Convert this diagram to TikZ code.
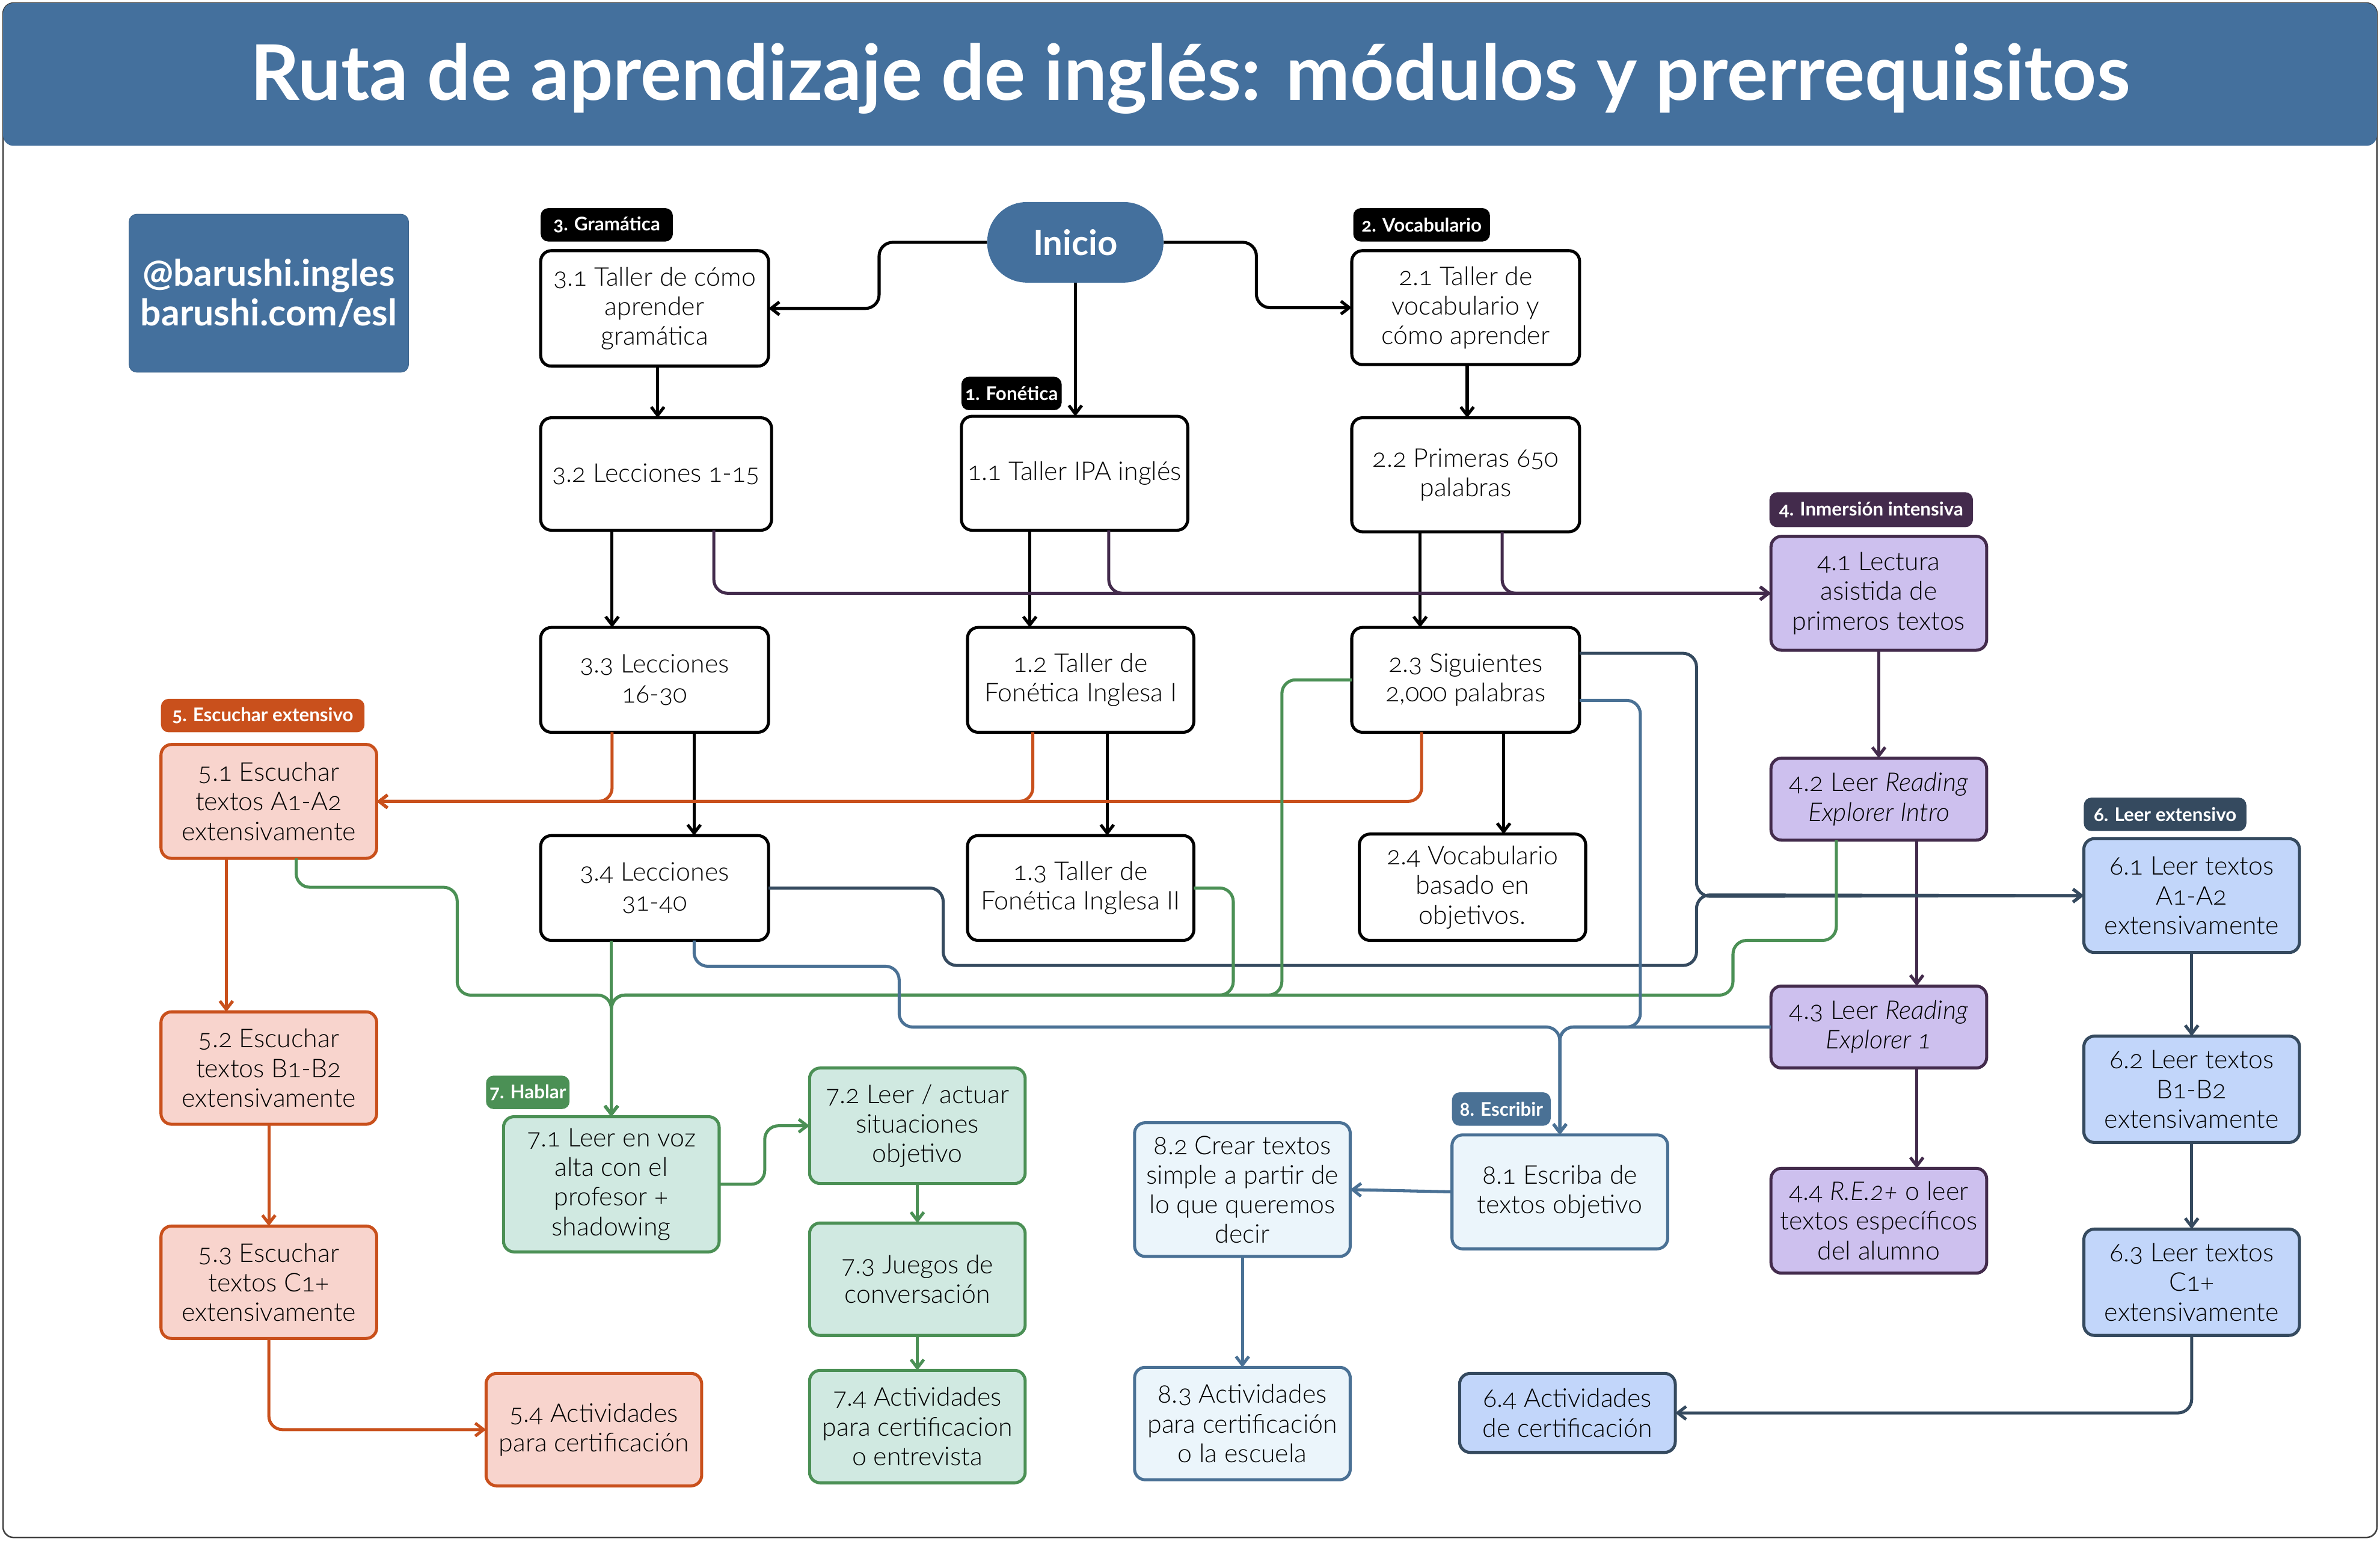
\documentclass[tikz,border=0pt]{standalone}
\usepackage{fontspec}
\setmainfont{Lato}[UprightFont=* Light,ItalicFont=* Light Italic,BoldFont=* Bold,Numbers=OldStyle]
\usetikzlibrary{arrows.meta}
\definecolor{cabecera}{HTML}{44709D}
\definecolor{lila}{HTML}{CDC0EE}
\definecolor{lilaosc}{HTML}{432B4C}
\definecolor{rosa}{HTML}{F8D4CD}
\definecolor{naranja}{HTML}{C9501C}
\definecolor{menta}{HTML}{D0E9E1}
\definecolor{verde}{HTML}{4B9055}
\definecolor{celeste}{HTML}{C2D6FA}
\definecolor{marino}{HTML}{354A5F}
\definecolor{hielo}{HTML}{EBF5FB}
\definecolor{azul}{HTML}{4A7195}
\tikzset{
  x=1pt, y=-1pt, >={Straight Barb[length=5.5pt,width=8.5pt]},
  caja/.style={draw=#1, line width=2pt, rounded corners=7pt, align=center, inner sep=0pt,
    outer sep=0pt, text=black, font=\fontsize{17}{19.5}\selectfont},
  tam/.style 2 args={minimum width=#1, minimum height=#2},
  negra/.style={caja=black, fill=white},
  morada/.style={caja=lilaosc, fill=lila, tam={142}{75}},
  roja/.style={caja=naranja, fill=rosa, tam={142}{74}},
  verdosa/.style={caja=verde, fill=menta, tam={142}{74}},
  azulada/.style={caja=marino, fill=celeste, tam={142}{70}},
  clara/.style={caja=azul, fill=hielo, tam={142}{75}},
  etiqueta/.style={fill=#1, rounded corners=5pt, text=white, inner sep=0pt, outer sep=0pt,
    font=\fontsize{12.4}{14}\selectfont\bfseries, minimum height=22pt},
  lineaN/.style={->, line width=2pt, rounded corners=9pt},
  lineaC/.style={->, draw=#1, line width=2pt, rounded corners=9pt}
}
\begin{document}
\begin{tikzpicture}
  \useasboundingbox (0,0) rectangle (1567,1014.3);
  \node[draw=black!75, fill=white, line width=1pt, rounded corners=7pt, tam={1563}{1010}] (marco) at (783.5,507) {};
  \node[fill=cabecera, rounded corners=7pt, text=white, tam={1563}{94}, text height=44pt, text depth=10pt,
    font=\fontsize{50.5}{54}\selectfont\bfseries] (titulo) at (783.5,49)
    {Ruta de aprendizaje de inglés: módulos y prerrequisitos};
  \node[fill=cabecera, draw=cabecera!90!black, rounded corners=5pt, text=white, align=center, tam={184}{104},
    font=\fontsize{24}{26}\selectfont\bfseries] (redes) at (177,193) {@barushi.ingles\\barushi.com/esl};
  \node[fill=cabecera, rounded corners=26pt, text=white, tam={116}{53}, font=\fontsize{23}{26}\selectfont\bfseries] (inicio) at (708,159.5) {Inicio};

  % fonetica
  \node[etiqueta=black, tam={66}{22}] (t1) at (666,259) {1. Fonética};
  \node[negra, tam={149}{75}] (b11) at (707.5,311.5) {1.1 Taller IPA inglés};
  \node[negra, tam={149}{69}] (b12) at (711.5,447.5) {1.2 Taller de\\Fonética Inglesa I};
  \node[negra, tam={149}{69}] (b13) at (711.5,584.5) {1.3 Taller de\\Fonética Inglesa II};
  % vocabulario
  \node[etiqueta=black, tam={90}{22}] (t2) at (936,148) {2. Vocabulario};
  \node[negra, tam={150}{75}] (b21) at (965,202.5) {2.1 Taller de\\vocabulario y\\cómo aprender};
  \node[negra, tam={150}{75}] (b22) at (965,312.5) {2.2 Primeras 650\\palabras};
  \node[negra, tam={150}{69}] (b23) at (965,447.5) {2.3 Siguientes\\2,000 palabras};
  \node[negra, tam={149}{70}] (b24) at (969.5,584) {2.4 Vocabulario\\basado en\\objetivos.};
  % gramatica
  \node[etiqueta=black, tam={87}{22}] (t3) at (399.5,148) {3. Gramática};
  \node[negra, tam={150}{76}] (b31) at (431,203) {3.1 Taller de cómo\\aprender\\gramática};
  \node[negra, tam={152}{74}] (b32) at (432,312) {3.2 Lecciones 1-15};
  \node[negra, tam={150}{69}] (b33) at (431,447.5) {3.3 Lecciones\\16-30};
  \node[negra, tam={150}{69}] (b34) at (431,584.5) {3.4 Lecciones\\31-40};
  % inmersion
  \node[etiqueta=lilaosc, tam={134}{23}] (t4) at (1232,335.5) {4. Inmersión intensiva\hspace{10pt}};
  \node[morada] (b41) at (1237,390.5) {4.1 Lectura\\asistida de\\primeros textos};
  \node[morada, tam={142}{54}] (b42) at (1237,526) {4.2 Leer \textit{Reading}\\\textit{Explorer Intro}};
  \node[morada, tam={142}{54}] (b43) at (1237,676) {4.3 Leer \textit{Reading}\\\textit{Explorer 1}};
  \node[morada, tam={142}{69}] (b44) at (1237,803.5) {4.4 \textit{R.E.2+} o leer\\textos específicos\\del alumno};
  % escuchar
  \node[etiqueta=naranja, tam={134}{22}] (t5) at (173,471) {5. Escuchar extensivo\hspace{11pt}};
  \node[roja, tam={142}{75}] (b51) at (177,527.5) {5.1 Escuchar\\textos A1-A2\\extensivamente};
  \node[roja] (b52) at (177,703) {5.2 Escuchar\\textos B1-B2\\extensivamente};
  \node[roja] (b53) at (177,844) {5.3 Escuchar\\textos C1+\\extensivamente};
  \node[roja] (b54) at (391,941) {5.4 Actividades\\para certificación};
  % leer
  \node[etiqueta=marino, tam={107}{22}] (t6) at (1425.5,536) {6. Leer extensivo\hspace{8pt}};
  \node[azulada, tam={142}{75}] (b61) at (1443,589.5) {6.1 Leer textos\\A1-A2\\extensivamente};
  \node[azulada] (b62) at (1443,717) {6.2 Leer textos\\B1-B2\\extensivamente};
  \node[azulada] (b63) at (1443,844) {6.3 Leer textos\\C1+\\extensivamente};
  \node[azulada, tam={142}{52}] (b64) at (1032,930) {6.4 Actividades\\de certificación};
  % hablar
  \node[etiqueta=verde, tam={55}{22}] (t7) at (347.5,719) {7. Hablar};
  \node[verdosa, tam={142}{89}] (b71) at (402.5,779.5) {7.1 Leer en voz\\alta con el\\profesor +\\shadowing};
  \node[verdosa, tam={142}{76}] (b72) at (604,741) {7.2 Leer / actuar\\situaciones\\objetivo};
  \node[verdosa] (b73) at (604,842) {7.3 Juegos de\\conversación};
  \node[verdosa] (b74) at (604,939) {7.4 Actividades\\para certificacion\\o entrevista};
  % escribir
  \node[etiqueta=azul, tam={65}{22}] (t8) at (988.5,730) {8. Escribir};
  \node[clara] (b81) at (1027,784.5) {8.1 Escriba de\\textos objetivo};
  \node[clara, tam={142}{88}] (b82) at (818,783) {8.2 Crear textos\\simple a partir de\\lo que queremos\\decir};
  \node[clara, tam={142}{74}] (b83) at (818,937) {8.3 Actividades\\para certificación\\o la escuela};

  \coordinate (cruce) at (402.5,655);

  % negras
  \draw[lineaN] (inicio.west) -- ++(-71,0) |- (b31.east);
  \draw[lineaN] (inicio.east) -- ++(61,0) |- (b21.west);
  \draw[lineaN] (inicio.south) -- (inicio.south |- b11.north);
  \draw[lineaN] ([xshift=2]b31.south) -- ([xshift=1]b32.north);
  \draw[lineaN] ([xshift=1]b21.south) -- ([xshift=1]b22.north);
  \draw[lineaN] ([xshift=-29]b32.south) -- ([xshift=-28]b33.north);
  \draw[lineaN] ([xshift=-29.5]b11.south) -- ([xshift=-33.5]b12.north);
  \draw[lineaN] ([xshift=-30]b22.south) -- ([xshift=-30]b23.north);
  \draw[lineaN] ([xshift=26]b33.south) -- ([xshift=26]b34.north);
  \draw[lineaN] ([xshift=17.5]b12.south) -- ([xshift=17.5]b13.north);
  \draw[lineaN] ([xshift=25]b23.south) -- ([xshift=20.5]b24.north);
  % hacia 4.1
  \draw[lineaC=lilaosc] ([xshift=38]b32.south) |- (b41.west);
  \draw[lineaC=lilaosc] ([xshift=22.5]b11.south) |- (b41.west);
  \draw[lineaC=lilaosc] ([xshift=24]b22.south) |- (b41.west);
  \draw[lineaC=lilaosc] (b41.south) -- (b42.north);
  \draw[lineaC=lilaosc] ([xshift=25]b42.south) -- ([xshift=25]b43.north);
  \draw[lineaC=lilaosc] ([xshift=25]b43.south) -- ([xshift=25]b44.north);
  % hacia 5.1
  \draw[lineaC=naranja] ([xshift=-29]b23.south) |- (b51.east);
  \draw[lineaC=naranja] ([xshift=-31.5]b12.south) |- (b51.east);
  \draw[lineaC=naranja] ([xshift=-28]b33.south) |- (b51.east);
  \draw[lineaC=naranja] ([xshift=-28]b51.south) -- ([xshift=-28]b52.north);
  \draw[lineaC=naranja] (b52.south) -- (b53.north);
  \draw[lineaC=naranja] (b53.south) |- (b54.west);
  % hacia 6.1
  \draw[lineaC=marino] (b34.east) -- ++(115,0) -- ++(0,51) -- ++(496,0) -- ++(0,-46.5) -- (b61.west);
  \draw[lineaC=marino] ([yshift=17.5]b23.east) -- ++(77,0) -- ++(0,160) -- (b61.west);
  \draw[lineaC=marino] (b61.south) -- (b62.north);
  \draw[lineaC=marino] (b62.south) -- (b63.north);
  \draw[lineaC=marino] (b63.south) |- (b64.east);
  % hacia 7.1
  \draw[lineaC=verde] (b34.south -| b71.north) -- (b71.north);
  \draw[lineaC=verde] ([xshift=18]b51.south) -- ++(0,19) -- ++(106,0) |- (cruce) -- (b71.north);
  \draw[lineaC=verde] ([xshift=-28]b42.south) -- ++(0,66) -- ++(-68,0) |- (cruce) -- (b71.north);
  \draw[lineaC=verde] (b23.west) -- ++(-46,0) |- (cruce) -- (b71.north);
  \draw[lineaC=verde] (b13.east) -- ++(26,0) |- (cruce) -- (b71.north);
  \draw[lineaC=verde] (b71.east) -- ++(30,0) |- (b72.west);
  \draw[lineaC=verde] (b72.south) -- (b73.north);
  \draw[lineaC=verde] (b73.south) -- (b74.north);
  % hacia 8.1
  \draw[lineaC=azul] ([xshift=26]b34.south) -- ++(0,17) -- ++(135,0) -- ++(0,40) -| (b81.north);
  \draw[lineaC=azul] (b43.west) -| (b81.north);
  \draw[lineaC=azul] ([yshift=-13.5]b23.east) -- ++(40,0) -- ++(0,215) -| (b81.north);
  \draw[lineaC=azul] (b81.west) -- (b82.east);
  \draw[lineaC=azul] (b82.south) -- (b83.north);
\end{tikzpicture}
\end{document}
